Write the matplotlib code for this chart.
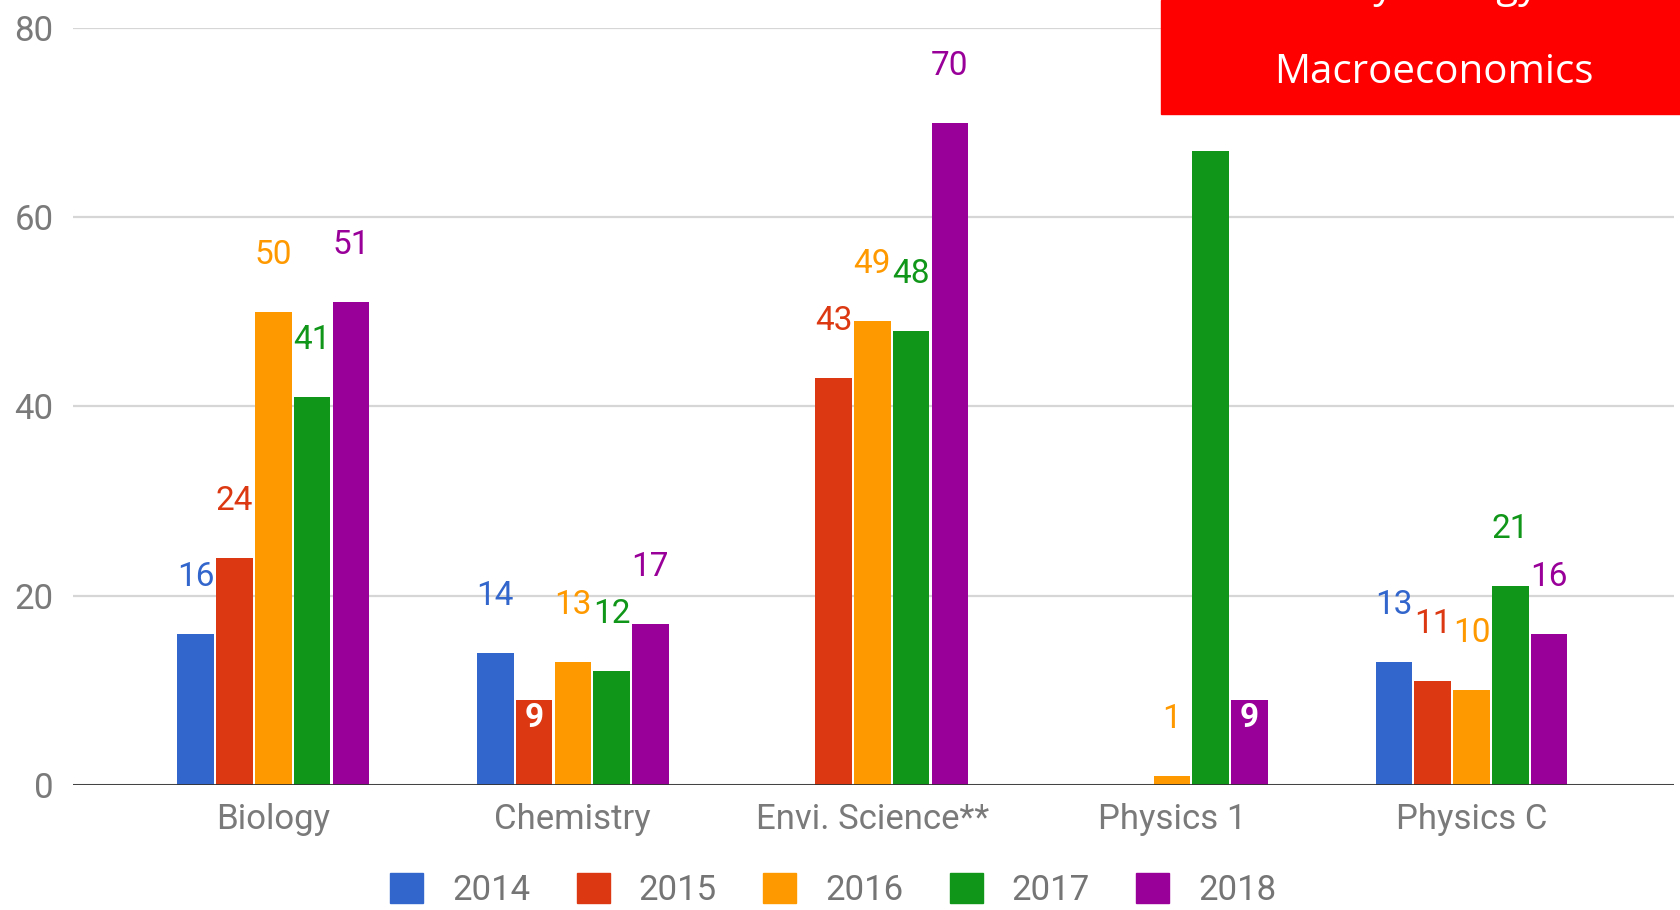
import numpy as np
import matplotlib
matplotlib.use("Agg")
import matplotlib.pyplot as plt
from matplotlib.patches import Patch, Rectangle

categories = ["Biology", "Chemistry", "Envi. Science**", "Physics 1", "Physics C"]
years = ["2014", "2015", "2016", "2017", "2018"]
v2014 = [16, 14, np.nan, np.nan, 13]
v2015 = [24, 9, 43, np.nan, 11]
v2016 = [50, 13, 49, 1, 10]
v2017 = [41, 12, 48, 67, 21]
v2018 = [51, 17, 70, 9, 16]
series = [v2014, v2015, v2016, v2017, v2018]
box_lines = ["Psychology", "Macroeconomics"]

colors = ["#3366cc", "#dc3912", "#ff9900", "#109618", "#990099"]
# labels google drew inside the bar (category index, series index)
inside = {(1, 1), (3, 4)}

fig = plt.figure(figsize=(16.8, 9.1), dpi=100)
ax = fig.add_axes([0.0434, 0.1374, 0.953, 0.8318])

x = np.arange(len(categories))
step, width = 0.1295, 0.122
for j, vals in enumerate(series):
    xs = x + (j - 2) * step
    ax.bar(xs, vals, width, color=colors[j], zorder=3)
    for i, v in enumerate(vals):
        if np.isnan(v):
            continue
        if (i, j) in inside:
            ax.annotate(str(int(v)), (xs[i], v), xytext=(0, -13), textcoords="offset points",
                        ha="center", va="center", fontsize=24, color="white",
                        fontweight="bold", family="Roboto", zorder=5)
        else:
            ax.annotate(str(int(v)), (xs[i], v), xytext=(0, 41), textcoords="offset points",
                        ha="center", va="center", fontsize=24, color=colors[j],
                        family="Roboto", zorder=5)

ax.set_xlim(-0.669, 4.676)
ax.set_ylim(0, 80)
ax.set_yticks([0, 20, 40, 60, 80])
ax.set_xticks(x)
ax.set_xticklabels(categories)
ax.yaxis.grid(True, color="#d6d6d6", lw=1.6)
ax.set_axisbelow(True)
for s in ax.spines.values():
    s.set_visible(False)
ax.axhline(0, color="#333333", lw=2, zorder=4)
ax.tick_params(axis="y", length=0, labelsize=25, labelcolor="#7a7a7a", pad=14)
ax.tick_params(axis="x", length=0, labelsize=25, labelcolor="#7a7a7a", pad=13)
for t in ax.get_xticklabels() + ax.get_yticklabels():
    t.set_family("Roboto")

handles = [Patch(color=c) for c in colors]
fig.legend(handles, years, loc="center", bbox_to_anchor=(0.496, 0.022), ncol=5,
           frameon=False, handlelength=0.95, handleheight=0.95,
           handletextpad=0.84, columnspacing=1.33, labelcolor="#757575",
           prop={"family": "Roboto", "size": 25})

fig.add_artist(Rectangle((0.691, 0.8747), 0.309, 0.1253, transform=fig.transFigure,
                         color="#ff0000", zorder=10))
fig.text(0.8536, 1.0035, box_lines[0], color="white", fontsize=29, family="Open Sans",
         ha="center", va="baseline", zorder=11)
fig.text(0.8536, 0.9093, box_lines[1], color="white", fontsize=29, family="Open Sans",
         ha="center", va="baseline", zorder=11)

fig.savefig("out.png", dpi=100)
